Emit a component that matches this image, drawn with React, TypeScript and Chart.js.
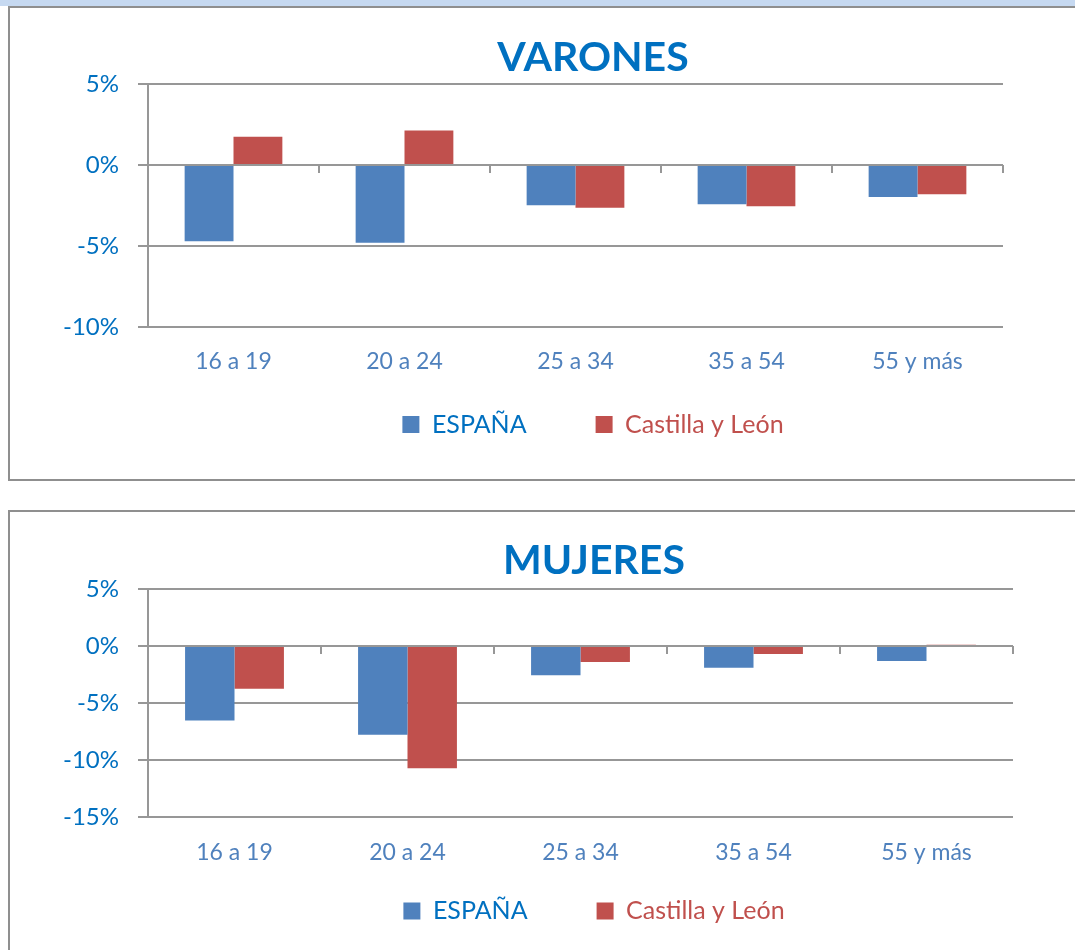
import React, { useEffect, useRef } from 'react';
import { Chart, registerables } from 'chart.js';

Chart.register(...registerables);

// ---- Data ----
const categories = ['16 a 19', '20 a 24', '25 a 34', '35 a 54', '55 y más'];
const seriesNames = ['ESPAÑA', 'Castilla y León'];
const varonesEspana = [-4.7, -4.8, -2.48, -2.42, -1.97];
const varonesCyL = [1.74, 2.13, -2.64, -2.55, -1.81];
const mujeresEspana = [-6.53, -7.79, -2.57, -1.9, -1.32];
const mujeresCyL = [-3.76, -10.72, -1.4, -0.7, 0.12];
const varonesTicks = [5, 0, -5, -10];
const mujeresTicks = [5, 0, -5, -10, -15];

// ---- Styles ----
const BLUE = '#4f81bd';
const RED = '#c0504d';
const TITLE_BLUE = '#0070c0';
const AXIS_LABEL = '#4f81bd';
const GRID = '#979797';
const FONT = 'Lato';

type Spec = {
  title: string;
  a: number[];
  b: number[];
  ticks: number[];
  width: number;
  height: number;
  rightW: number;
  titlePadTop: number;
  titlePadBottom: number;
  gapH: number;
  xPad: number;
  bottomPad: number;
};

function makeConfig(s: Spec): any {
  const min = Math.min(...s.ticks);
  const max = Math.max(...s.ticks);
  const legendColors = [TITLE_BLUE, RED];
  return {
    type: 'bar',
    data: {
      labels: categories,
      datasets: [
        {
          label: seriesNames[0],
          data: s.a,
          backgroundColor: BLUE,
          borderWidth: 0,
          categoryPercentage: 2 / 3.5,
          barPercentage: 1,
          xAxisID: 'x',
          yAxisID: 'y',
        },
        {
          label: seriesNames[1],
          data: s.b,
          backgroundColor: RED,
          borderWidth: 0,
          categoryPercentage: 2 / 3.5,
          barPercentage: 1,
          xAxisID: 'x',
          yAxisID: 'y',
        },
      ],
    },
    options: {
      responsive: false,
      animation: false,
      layout: { padding: { top: 0, left: 0, right: 0, bottom: s.bottomPad } },
      plugins: {
        tooltip: { enabled: false },
        title: {
          display: true,
          text: s.title,
          color: TITLE_BLUE,
          font: { family: FONT, size: 41, weight: 'bold' },
          padding: { top: s.titlePadTop, bottom: s.titlePadBottom },
        },
        legend: {
          position: 'bottom',
          labels: {
            font: { family: FONT, size: 25 },
            boxWidth: 17,
            boxHeight: 17,
            padding: 69,
            generateLabels: (chart: any) =>
              Chart.defaults.plugins.legend.labels
                .generateLabels(chart)
                .map((it: any, i: number) => ({
                  ...it,
                  fontColor: legendColors[i],
                  lineWidth: 0,
                  strokeStyle: 'rgba(0,0,0,0)',
                })),
          },
        },
      },
      scales: {
        // category axis of the bars (reserves the space above the legend)
        x: {
          type: 'category',
          position: 'bottom',
          grid: { display: false, drawTicks: false },
          border: { display: false },
          ticks: { display: false },
          afterFit: (sc: any) => {
            sc.height = s.gapH;
          },
        },
        // category labels, drawn below the bottom of the plot
        xL: {
          type: 'category',
          labels: categories,
          position: { y: min },
          offset: true,
          grid: { display: false, drawTicks: false, drawOnChartArea: false },
          border: { display: false },
          ticks: {
            color: AXIS_LABEL,
            font: { family: FONT, size: 23 },
            padding: s.xPad,
            maxRotation: 0,
            autoSkip: false,
          },
        },
        // tick marks on the zero line
        x0: {
          type: 'category',
          labels: categories,
          position: { y: 0 },
          offset: true,
          grid: {
            display: true,
            drawOnChartArea: false,
            drawTicks: true,
            tickLength: 8,
            offset: true,
            color: GRID,
            lineWidth: 2,
          },
          border: { display: false },
          ticks: { display: false },
        },
        y: {
          type: 'linear',
          position: 'left',
          min,
          max,
          ticks: {
            stepSize: 5,
            color: TITLE_BLUE,
            font: { family: FONT, size: 24 },
            padding: 19,
            callback: (v: any) => v + '%',
          },
          grid: {
            color: GRID,
            lineWidth: 2,
            drawTicks: true,
            tickLength: 10,
          },
          border: { display: true, color: GRID, width: 2 },
          afterFit: (sc: any) => {
            sc.width = 138;
          },
        },
        yR: {
          type: 'linear',
          position: 'right',
          display: true,
          grid: { display: false, drawTicks: false },
          border: { display: false },
          ticks: { display: false },
          afterFit: (sc: any) => {
            sc.width = s.rightW;
          },
        },
      },
    },
  };
}

function ChartCanvas({ spec }: { spec: Spec }) {
  const ref = useRef<HTMLCanvasElement | null>(null);
  useEffect(() => {
    let chart: Chart | null = null;
    let cancelled = false;
    const build = () => {
      if (cancelled || !ref.current) return;
      chart = new Chart(ref.current, makeConfig(spec));
    };
    const fonts: any = (document as any).fonts;
    if (fonts && fonts.load) {
      Promise.all([
        fonts.load(`bold 41px ${FONT}`),
        fonts.load(`25px ${FONT}`),
      ])
        .catch(() => null)
        .then(build);
    } else {
      build();
    }
    return () => {
      cancelled = true;
      if (chart) chart.destroy();
    };
  }, [spec]);
  return (
    <canvas
      ref={ref}
      width={spec.width}
      height={spec.height}
      style={{ display: 'block', width: spec.width, height: spec.height }}
    />
  );
}

const topSpec: Spec = {
  title: 'VARONES',
  a: varonesEspana,
  b: varonesCyL,
  ticks: varonesTicks,
  width: 1166,
  height: 470,
  rightW: 173,
  titlePadTop: 25.4,
  titlePadBottom: 1.4,
  gapH: 16,
  xPad: 21,
  bottomPad: 31,
};

const bottomSpec: Spec = {
  title: 'MUJERES',
  a: mujeresEspana,
  b: mujeresCyL,
  ticks: mujeresTicks,
  width: 1168,
  height: 470,
  rightW: 165,
  titlePadTop: 24.4,
  titlePadBottom: 3.4,
  gapH: 12.5,
  xPad: 22,
  bottomPad: 48.5,
};

export default function App() {
  return (
    <div
      style={{
        position: 'fixed',
        left: 0,
        top: 0,
        width: 1075,
        height: 950,
        overflow: 'hidden',
        background: '#ffffff',
      }}
    >
      <div
        style={{
          position: 'absolute',
          left: 0,
          top: 0,
          width: 1075,
          height: 6,
          background: '#c6d9f1',
        }}
      />
      <div
        style={{
          position: 'absolute',
          left: 8,
          top: 6,
          width: 1300,
          height: 475,
          border: '2px solid #8f8f8f',
          boxSizing: 'border-box',
          background: '#ffffff',
        }}
      >
        <ChartCanvas spec={topSpec} />
      </div>
      <div
        style={{
          position: 'absolute',
          left: 8,
          top: 510,
          width: 1300,
          height: 600,
          border: '2px solid #8f8f8f',
          boxSizing: 'border-box',
          background: '#ffffff',
        }}
      >
        <ChartCanvas spec={bottomSpec} />
      </div>
    </div>
  );
}
